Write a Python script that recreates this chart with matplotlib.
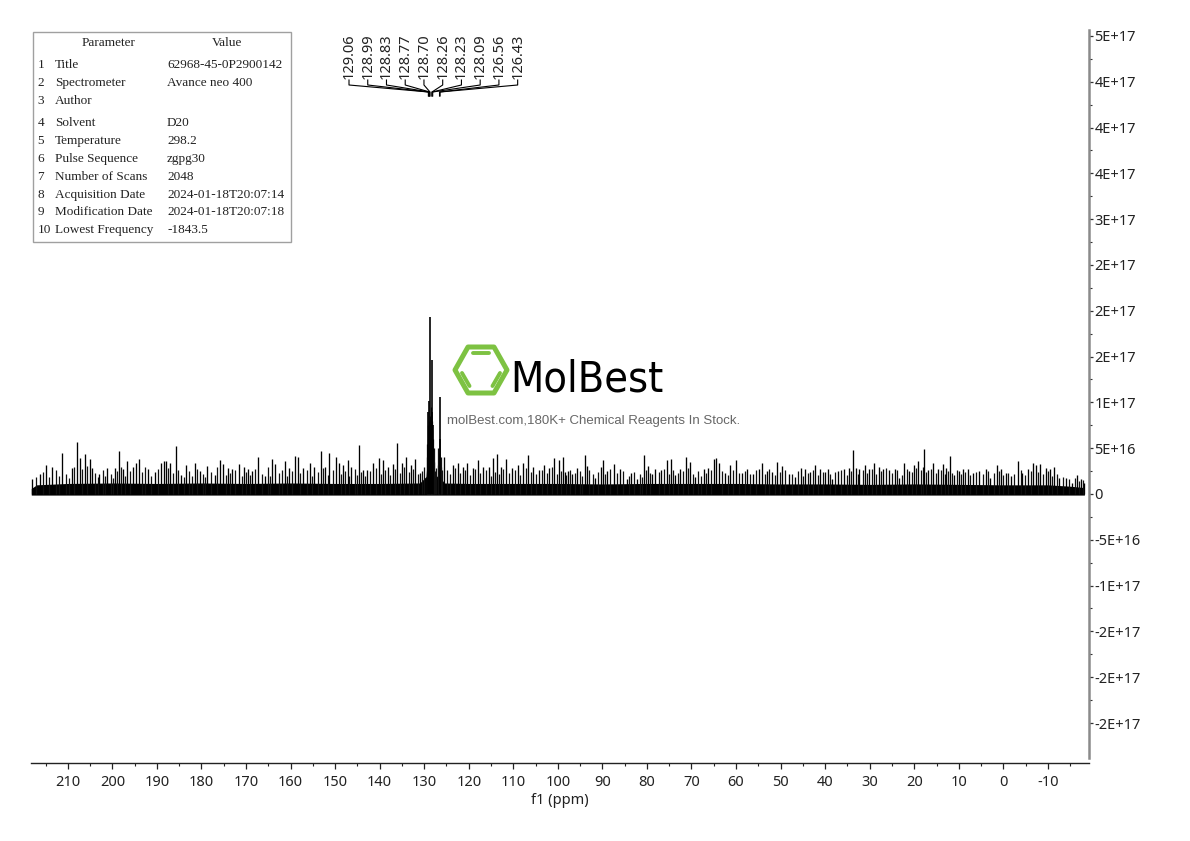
import matplotlib
matplotlib.use("Agg")
import matplotlib.pyplot as plt
import matplotlib.transforms as mtransforms
from matplotlib import font_manager as fm
from matplotlib.patches import Rectangle, Polygon
from matplotlib.lines import Line2D
import numpy as np

# ---------------- data ----------------
peak_ppm = [129.06, 128.99, 128.83, 128.77, 128.70, 128.26, 128.23, 128.09, 126.56, 126.43]
peak_labels = ["129.06", "128.99", "128.83", "128.77", "128.70",
               "128.26", "128.23", "128.09", "126.56", "126.43"]
peak_height = [9.0, 10.1, 6.5, 7.0, 19.3, 14.6, 9.0, 7.5, 6.0, 10.6]   # x 1e16

# tall noise spikes (ppm, height x 1e16)
noise_ppm = [218.0, 216.3, 215.0, 213.5, 211.2, 209.1, 207.9, 207.3, 206.2, 205.0, 204.6,
             202.9, 201.2, 199.5, 198.5, 197.5, 196.7, 195.3, 194.7, 194.1, 192.0, 190.5,
             189.0, 188.4, 188.0, 187.1, 185.7, 184.7, 183.4, 181.5, 180.4, 178.7, 177.0,
             175.9, 175.2, 174.0, 173.1, 171.6, 170.4, 169.6, 168.7, 167.2, 165.8, 164.1,
             163.4, 161.3, 160.3, 159.1, 158.4, 157.1, 155.6, 154.7, 153.2, 152.2, 151.3,
             149.8, 149.2, 148.2, 147.2, 146.4, 144.7, 143.8, 142.9, 141.6, 140.2, 139.2,
             138.2, 137.1, 136.1, 135.0, 134.1, 133.0, 132.0, 131.0, 125.5, 123.6, 122.5,
             121.4, 120.3, 119.1, 118.0, 116.9, 115.5, 114.5, 113.7, 112.8, 111.6, 110.2,
             109.0, 107.8, 106.6, 105.5, 104.2, 103.0, 101.9, 100.8, 99.7, 98.9, 98.5,
             97.7, 96.8, 95.7, 94.0, 93.5, 91.6, 90.2, 89.9, 89.0, 87.5, 86.0, 84.5, 83.5,
             82.2, 80.7, 79.8, 78.9, 78.1, 76.8, 75.5, 74.6, 73.6, 72.5, 71.2, 70.3, 69.1,
             67.3, 66.2, 65.0, 64.5, 63.8, 62.4, 61.3, 60.0, 58.7, 57.5, 56.1, 54.9, 54.2,
             53.1, 51.9, 50.8, 49.7, 48.2, 46.7, 45.4, 44.5, 43.3, 42.2, 41.1, 40.0, 39.4,
             38.5, 37.2, 35.7, 34.6, 33.7, 33.1, 32.3, 31.0, 30.1, 29.0, 28.0, 27.1, 25.7,
             24.3, 23.4, 22.2, 21.1, 20.0, 19.2, 17.7, 17.0, 15.7, 14.7, 13.6, 12.9, 12.0,
             11.0, 9.9, 9.0, 8.0, 6.9, 5.4, 3.9, 3.0, 1.4, 0.5, -0.5, -1.7, -3.4, -4.3,
             -5.5, -6.7, -7.3, -8.3, -9.6, -10.5, -11.4, -12.6, -14.1, -15.4, -16.5,
             -17.4, -18.2]
noise_height = [1.67, 2.15, 3.13, 2.98, 4.44, 2.84, 5.68, 3.93, 4.33, 3.78, 2.87,
                2.15, 2.84, 2.84, 4.69, 2.77, 3.60, 2.98, 3.35, 3.86, 2.77, 2.40,
                3.42, 3.60, 3.60, 3.35, 5.24, 2.04, 3.13, 3.35, 2.51, 3.06, 2.04,
                3.71, 3.24, 2.87, 2.69, 3.24, 2.98, 2.77, 2.51, 4.08, 1.97, 3.86,
                3.24, 3.60, 2.87, 4.15, 4.08, 2.80, 3.35, 2.98, 4.73, 2.98, 4.51,
                4.08, 3.35, 3.17, 3.71, 2.98, 5.35, 2.62, 2.62, 3.35, 3.89, 3.71,
                2.98, 3.28, 5.60, 3.42, 4.00, 3.17, 3.78, 2.26, 4.08, 3.17, 3.35,
                2.98, 3.35, 2.80, 3.71, 2.98, 2.98, 3.89, 4.37, 2.98, 3.78, 2.80,
                3.17, 3.42, 4.26, 2.98, 2.62, 3.17, 2.80, 3.89, 3.71, 4.08, 2.40,
                2.51, 2.15, 2.87, 4.22, 3.06, 1.78, 2.98, 3.71, 2.51, 3.24, 2.69, 1.60, 2.33,
                1.67, 4.22, 3.06, 2.15, 2.77, 2.62, 3.71, 3.78, 2.04, 2.77, 4.08, 3.49, 1.89,
                2.69, 2.87, 3.86, 3.97, 3.42, 2.33, 3.13, 3.68, 2.26, 2.69, 2.15, 2.77, 3.42,
                2.51, 2.40, 3.49, 3.06, 2.15, 1.89, 2.87, 2.69, 2.40, 3.13, 2.69, 2.40, 2.69,
                1.67, 2.51, 2.69, 2.87, 4.80, 2.87, 2.77, 3.13, 2.69, 3.42, 2.98, 2.69, 2.58,
                2.77, 1.78, 3.42, 2.51, 3.13, 3.60, 4.88, 2.62, 3.42, 2.69, 3.24, 2.87, 4.15,
                2.04, 2.51, 2.77, 2.69, 2.26, 2.51, 2.77, 1.78, 3.13, 2.69, 2.33, 1.97, 3.60, 2.33,
                2.69, 3.35, 3.13, 3.24, 2.87, 2.69, 2.98, 1.78, 1.78, 1.24, 2.04,
                1.67, 1.24]

# smaller noise lines between the tall ones
minor_ppm = [217.2, 215.6, 214.2, 212.6, 211.9, 210.3, 209.7, 208.5, 206.7, 205.6, 203.8,
             203.3, 202.0, 201.6, 200.4, 199.9, 199.0, 198.0, 197.1, 196.0, 193.4, 192.7,
             191.3, 189.8, 187.5, 186.4, 185.2, 184.0, 182.8, 182.1, 180.9, 179.7, 179.2,
             177.8, 176.5, 174.6, 173.5, 172.4, 171.0, 169.9, 169.1, 167.9, 166.5, 165.0,
             164.5, 162.6, 161.9, 160.8, 159.7, 157.8, 156.4, 155.1, 153.9, 152.7, 151.7,
             150.5, 148.7, 147.7, 146.8, 145.6, 145.1, 144.2, 143.3, 142.2, 140.9, 139.7,
             138.7, 137.6, 136.6, 135.5, 134.5, 133.5, 132.5, 131.5, 130.5, 130.0,
             129.4, 129.3, 129.2, 129.1, 128.95, 128.9, 128.6, 128.55, 128.5, 128.4, 128.35,
             128.15, 128.0, 127.9, 127.8, 127.6, 127.3, 127.0, 126.9, 126.7, 126.3, 126.2,
             126.0, 124.9, 124.2, 123.0, 121.9, 120.8, 119.7, 118.5, 117.4, 116.2, 115.0,
             114.1, 113.2, 112.2, 110.9, 109.6, 108.4, 107.2, 106.0, 104.8, 103.6, 102.4,
             101.3, 100.2, 99.3, 98.1, 97.2, 96.2, 95.0, 94.5, 92.9, 92.2, 90.9, 89.4, 88.3,
             86.7, 85.3, 84.0, 82.8, 81.5, 81.0, 80.2, 79.3, 77.4, 76.1, 75.0, 74.1, 73.0,
             71.8, 70.7, 69.7, 68.5, 67.9, 66.7, 65.6, 63.1, 61.8, 60.6, 59.3, 58.1, 56.8,
             55.5, 53.6, 52.5, 51.3, 50.2, 48.9, 47.4, 46.0, 44.9, 43.9, 42.7, 41.6, 40.5,
             38.9, 37.8, 36.4, 35.1, 34.1, 32.7, 31.6, 30.5, 29.5, 28.5, 27.5, 26.4, 25.0,
             23.8, 22.8, 21.6, 20.5, 19.6, 18.5, 18.0, 17.3, 16.3, 15.2, 14.1, 13.2, 12.5,
             11.5, 10.4, 9.4, 8.5, 7.4, 6.1, 4.6, 3.4, 2.2, 0.9, 0.0, -1.1, -2.5, -3.9,
             -4.9, -6.1, -7.8, -9.0, -10.0, -11.0, -12.0, -13.3, -14.8, -16.0, -17.0, -17.8]
minor_height = [1.9, 2.4, 1.8, 2.6, 2.0, 2.2, 1.7, 3.0, 2.7, 3.1, 2.3,
                1.8, 2.6, 2.0, 2.2, 1.7, 2.5, 2.9, 2.0, 2.5, 2.4, 2.9,
                2.0, 2.7, 2.8, 2.3, 2.6, 1.9, 2.5, 2.0, 2.7, 2.2, 1.8,
                2.4, 2.9, 2.1, 2.3, 2.6, 2.0, 2.4, 2.1, 2.7, 2.2, 2.9,
                2.0, 2.3, 2.6, 2.0, 2.5, 2.3, 2.6, 2.0, 2.4, 2.8, 2.1,
                2.6, 2.2, 2.5, 2.0, 2.7, 2.1, 2.4, 2.0, 2.5, 2.8, 2.2,
                2.6, 2.1, 2.7, 2.3, 2.9, 2.4, 2.7, 2.2, 2.5, 3.0,
                4.0, 5.5, 6.0, 7.5, 8.0, 6.5, 8.5, 7.0, 6.0, 9.5, 7.0,
                8.0, 6.0, 5.0, 3.5, 2.5, 2.8, 3.2, 5.0, 4.5, 4.0, 3.0,
                2.6, 2.6, 2.2, 2.8, 2.3, 2.6, 2.1, 2.7, 2.3, 2.6, 2.0,
                2.4, 2.2, 2.7, 2.3, 2.6, 2.1, 2.8, 2.4, 2.2, 2.6, 2.3,
                2.9, 2.2, 2.5, 2.1, 2.6, 2.3, 2.5, 2.0, 2.6, 2.2, 2.4, 2.2, 2.7,
                2.3, 2.5, 2.0, 2.4, 2.2, 1.9, 2.6, 2.3, 2.4, 2.7, 2.2, 2.6, 2.3,
                2.5, 2.8, 2.2, 2.5, 2.0, 2.3, 2.6, 2.5, 2.1, 2.6, 2.3, 2.5, 2.2,
                2.6, 2.2, 2.7, 2.1, 2.4, 2.6, 2.2, 2.5, 2.0, 2.3, 2.6, 2.1, 2.4,
                2.2, 2.4, 2.6, 2.1, 2.5, 2.2, 2.6, 2.3, 2.7, 2.2, 2.5, 2.8, 2.3,
                2.6, 2.1, 2.7, 2.4, 2.8, 2.6, 3.0, 2.4, 2.7, 2.3, 2.6, 2.2, 2.5,
                2.3, 2.6, 2.2, 2.4, 2.1, 2.4, 2.2, 2.5, 2.3, 2.5, 2.1, 2.3, 2.2, 2.6,
                2.1, 2.5, 2.4, 2.2, 2.5, 2.0, 2.2, 1.9, 1.6, 1.7, 1.4, 1.5]

floor_ppm = [218.2, 217.0, 210.0, 200.0, 190.0, 180.0, 170.0, 160.0, 150.0, 140.0, 131.0,
             129.6, 129.3, 128.0, 127.6, 126.8, 126.2, 125.5, 120.0, 110.0, 100.0, 90.0,
             80.0, 70.0, 60.0, 50.0, 40.0, 30.0, 20.0, 10.0, 0.0, -10.0, -15.0, -18.2]
floor_height = [0.6, 1.0, 1.15, 1.2, 1.15, 1.2, 1.15, 1.2, 1.15, 1.15, 1.2,
                1.9, 3.8, 3.8, 1.7, 2.1, 1.7, 1.2, 1.15, 1.15, 1.15, 1.1,
                1.15, 1.15, 1.15, 1.1, 1.1, 1.05, 1.1, 1.05, 1.0, 1.0, 0.85, 0.7]

x_ticks = [210, 200, 190, 180, 170, 160, 150, 140, 130, 120, 110, 100,
           90, 80, 70, 60, 50, 40, 30, 20, 10, 0, -10]
x_minor = [215, 205, 195, 185, 175, 165, 155, 145, 135, 125, 115, 105, 95,
           85, 75, 65, 55, 45, 35, 25, 15, 5, -5, -15]
y_ticks = [-2.5e17, -2.0e17, -1.5e17, -1.0e17, -5e16, 0, 5e16, 1.0e17, 1.5e17,
           2.0e17, 2.5e17, 3.0e17, 3.5e17, 4.0e17, 4.5e17, 5.0e17]
y_labels = ["-2E+17", "-2E+17", "-2E+17", "-1E+17", "-5E+16", "0", "5E+16", "1E+17",
            "2E+17", "2E+17", "2E+17", "3E+17", "4E+17", "4E+17", "4E+17", "5E+17"]

param_names = ["Title", "Spectrometer", "Author", "Solvent", "Temperature",
               "Pulse Sequence", "Number of Scans", "Acquisition Date",
               "Modification Date", "Lowest Frequency"]
param_values = ["62968-45-0P2900142", "Avance neo 400", "", "D20", "298.2",
                "zgpg30", "2048", "2024-01-18T20:07:14", "2024-01-18T20:07:18",
                "-1843.5"]

# ---------------- layout helpers ----------------
W, H = 1190, 841
fig = plt.figure(figsize=(W / 100, H / 100), dpi=100)
fig.patch.set_facecolor("white")

def fx(px):
    return px / W

def fy(py):
    return 1 - py / H

def has_font(name):
    try:
        fm.findfont(fm.FontProperties(family=name), fallback_to_default=False)
        return True
    except Exception:
        return False

tick_font = "Noto Sans" if has_font("Noto Sans") else "DejaVu Sans"
table_font = "Liberation Serif" if has_font("Liberation Serif") else "DejaVu Serif"
sub_font = "Liberation Sans" if has_font("Liberation Sans") else "DejaVu Sans"

AX_L, AX_R, AX_T, AX_B = 31, 1089, 30, 758
ax = fig.add_axes([fx(AX_L), fy(AX_B), (AX_R - AX_L) / W, (AX_B - AX_T) / H])
ax.set_facecolor("none")

XL, XR = 218.26, -19.23
ax.set_xlim(XL, XR)
ax.set_ylim(-2.882e17, 5.065e17)

# spectrum
ax.fill_between(floor_ppm, -0.12e16, np.array(floor_height) * 1e16,
                color="black", lw=0, zorder=2)
ax.vlines(minor_ppm, 0, np.array(minor_height) * 1e16, color="#111111", lw=0.9, zorder=3)
ax.vlines(noise_ppm, 0, np.array(noise_height) * 1e16, color="black", lw=0.95, zorder=3)
ax.vlines(peak_ppm, 0, np.array(peak_height) * 1e16, color="black", lw=1.2, zorder=3)

# axes styling
for s in ["left", "top"]:
    ax.spines[s].set_visible(False)
ax.spines["right"].set_color("#8a8a8a")
ax.spines["right"].set_linewidth(1.8)
ax.spines["bottom"].set_color("#222222")
ax.spines["bottom"].set_linewidth(1.0)
ax.spines["bottom"].set_position(("outward", 3.6))

ax.set_xticks(x_ticks)
ax.set_xticklabels([str(v) for v in x_ticks])
ax.set_xticks(x_minor, minor=True)
ax.yaxis.tick_right()
ax.set_yticks(y_ticks)
ax.set_yticklabels(y_labels)
ax.set_yticks([v + 2.5e16 for v in y_ticks[:-1]], minor=True)
ax.tick_params(axis="x", which="major", direction="out", length=4, width=0.9,
               color="#222222", pad=5, labelsize=10.5, labelcolor="#222222")
ax.tick_params(axis="x", which="minor", direction="out", length=2.5, width=0.8,
               color="#222222")
ax.tick_params(axis="y", which="major", direction="out", length=3, width=0.9,
               color="#333333", pad=1, labelsize=10.5, labelcolor="#222222")
ax.tick_params(axis="y", which="minor", direction="out", length=2, width=0.8,
               color="#333333")
for lab in ax.get_xticklabels() + ax.get_yticklabels():
    lab.set_fontfamily(tick_font)
ax.set_xlabel("f1 (ppm)", fontsize=10.5, color="#222222", family=tick_font)
ax.xaxis.set_label_coords(0.5, (AX_B - 800) / (AX_B - AX_T))
ax.xaxis.label.set_va("center")

# ---------------- peak labels ----------------
def px_to_ppm(px):
    return XL + (px - AX_L) / (AX_R - AX_L) * (XR - XL)

def py_to_axes(py):
    return (AX_B - py) / (AX_B - AX_T)

blend = mtransforms.blended_transform_factory(ax.transData, ax.transAxes)
for i, (p, lab) in enumerate(zip(peak_ppm, peak_labels)):
    lx = px_to_ppm(349 + i * 18.74)
    ax.text(lx, py_to_axes(79), lab, rotation=90, ha="center", va="bottom",
            fontsize=10.5, family=tick_font, color="#222222", transform=blend)
    ax.plot([lx, lx, p, p],
            [py_to_axes(80), py_to_axes(85), py_to_axes(92), py_to_axes(96)],
            color="black", lw=0.8, transform=blend, clip_on=False)

# ---------------- parameter table ----------------
fig.patches.append(Rectangle((fx(33), fy(241.5)), (291 - 33) / W, (241.5 - 32) / H,
                             transform=fig.transFigure, fill=False,
                             edgecolor="#a0a0a0", lw=1.0))
fig.text(fx(109), fy(43), "Parameter", ha="center", va="center", fontsize=9.5,
         family=table_font, color="#222222")
fig.text(fx(227), fy(43), "Value", ha="center", va="center", fontsize=9.5,
         family=table_font, color="#222222")
row_y = [65, 83, 101, 123, 141, 159, 177, 195, 212, 230]
for i, (nm, val) in enumerate(zip(param_names, param_values)):
    fig.text(fx(37.5), fy(row_y[i]), str(i + 1), ha="left", va="center", fontsize=9.5,
             family=table_font, color="#222222")
    fig.text(fx(55), fy(row_y[i]), nm, ha="left", va="center", fontsize=9.5,
             family=table_font, color="#222222")
    fig.text(fx(167), fy(row_y[i]), val, ha="left", va="center", fontsize=9.5,
             family=table_font, color="#222222")

# ---------------- watermark logo ----------------
green = "#7dc242"
cx, cy, hw, hh = 481, 370, 26, 23
hexv = [(cx - hw, cy), (cx - hw / 2, cy - hh), (cx + hw / 2, cy - hh),
        (cx + hw, cy), (cx + hw / 2, cy + hh), (cx - hw / 2, cy + hh)]
fig.patches.append(Polygon([(fx(a), fy(b)) for a, b in hexv], closed=True,
                           transform=fig.transFigure, fill=False,
                           edgecolor=green, lw=3.6, joinstyle="round"))
for (a1, b1), (a2, b2) in [((473, 353.5), (489, 353.5)),
                           ((462, 373), (469.5, 386)),
                           ((500, 373), (492.5, 386))]:
    fig.lines.append(Line2D([fx(a1), fx(a2)], [fy(b1), fy(b2)],
                            transform=fig.transFigure, color=green, lw=2.8,
                            solid_capstyle="round"))

if has_font("Liberation Sans Narrow"):
    logo_kw = dict(family="Liberation Sans Narrow", fontsize=40)
else:
    logo_kw = dict(family="DejaVu Sans", fontstretch="condensed", fontsize=31)
fig.text(fx(510), fy(392), "MolBest", ha="left", va="baseline", color="black",
         **logo_kw)
fig.text(fx(594), fy(421), "molBest.com,180K+ Chemical Reagents In Stock.",
         ha="center", va="center", fontsize=9.5, family=sub_font, color="#666666")

fig.savefig("out.png", dpi=100, facecolor="white")
